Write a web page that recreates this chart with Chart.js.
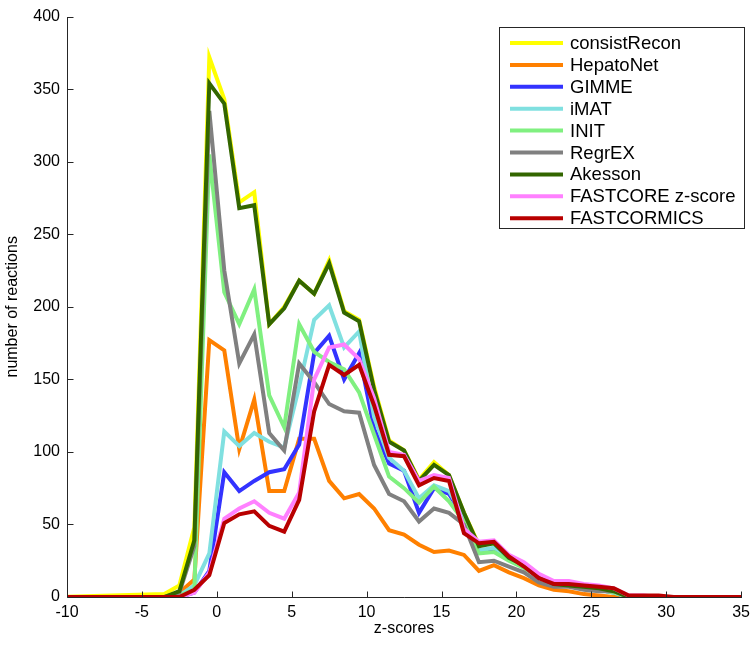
<!DOCTYPE html>
<html>
<head>
<meta charset="utf-8">
<script src="https://cdn.jsdelivr.net/npm/chart.js@4.4.1/dist/chart.umd.min.js"></script>
<style>
  html, body { margin: 0; padding: 0; background: #fff; }
  #wrap { width: 756px; height: 654px; }
</style>
</head>
<body>
<div id="wrap"><canvas id="chart" width="756" height="654"></canvas></div>
<script>
// bin centres (z-score) and number of reactions per method
const zScores = [-10.5, -3.5, -2.5, -1.5, -0.5, 0.5, 1.5, 2.5, 3.5, 4.5, 5.5, 6.5, 7.5, 8.5, 9.5, 10.5, 11.5, 12.5,
  13.5, 14.5, 15.5, 16.5, 17.5, 18.5, 19.5, 20.5, 21.5, 22.5, 23.5, 24.5, 25.5, 26.5, 27.5, 28.5, 29.5, 30.5, 35.5];

const consistRecon = [0, 2, 8, 48, 372, 343, 272, 279, 188, 200, 218, 209, 232, 197, 191, 145, 108, 101,
  81, 93, 84, 58, 36, 37, 27, 22, 14, 9, 8, 7, 6, 4, 0, 0, 0, 0, 0];
const hepatoNet = [0, 0, 3, 12, 177, 170, 102, 136, 73, 73, 109, 109, 80, 68, 71, 61, 46, 43,
  36, 31, 32, 29, 18, 22, 17, 13, 8, 5, 4, 2, 1, 0, 0, 0, 0, 0, 0];
const gimme = [0, 0, 0, 3, 18, 86, 73, 80, 86, 88, 105, 168, 180, 150, 168, 116, 92, 87,
  58, 75, 71, 55, 32, 33, 26, 21, 14, 9, 8, 7, 5, 3, 0, 0, 0, 0, 0];
const imat = [0, 0, 1, 8, 30, 114, 104, 113, 107, 103, 145, 191, 201, 172, 183, 124, 96, 87,
  68, 77, 73, 55, 32, 34, 27, 21, 14, 9, 8, 7, 5, 3, 0, 0, 0, 0, 0];
const init = [0, 0, 1, 5, 305, 210, 188, 212, 139, 117, 188, 169, 162, 157, 141, 112, 83, 75,
  65, 76, 66, 52, 30, 31, 25, 20, 14, 8, 8, 6, 5, 3, 0, 0, 0, 0, 0];
const regrEX = [0, 0, 3, 35, 335, 225, 161, 181, 113, 101, 161, 148, 133, 128, 127, 91, 71, 66,
  52, 61, 58, 50, 24, 25, 21, 17, 10, 7, 7, 5, 4, 4, 0, 0, 0, 0, 0];
const akesson = [0, 0, 4, 39, 354, 340, 268, 270, 188, 199, 218, 209, 230, 196, 190, 143, 107, 101,
  80, 91, 84, 58, 35, 37, 27, 22, 14, 9, 8, 7, 6, 4, 0, 0, 0, 0, 0];
const fastcoreZ = [0, 0, 0, 3, 17, 54, 61, 66, 58, 54, 72, 150, 172, 174, 164, 137, 100, 98,
  80, 84, 82, 47, 38, 39, 29, 24, 16, 11, 11, 9, 8, 6, 1, 1, 0, 0, 0];
const fastcormics = [0, 0, 0, 5, 15, 51, 57, 59, 49, 45, 67, 128, 160, 153, 160, 132, 98, 97,
  77, 82, 80, 44, 37, 38, 28, 21, 13, 9, 9, 8, 7, 6, 1, 1, 1, 0, 0];

const methodNames = ['consistRecon', 'HepatoNet', 'GIMME', 'iMAT', 'INIT', 'RegrEX', 'Akesson', 'FASTCORE z-score', 'FASTCORMICS'];
const methodColors = ['#ffff00', '#ff8000', '#3333ff', '#80e0e0', '#80f080', '#808080', '#336600', '#ff80ff', '#b80000'];
const seriesList = [consistRecon, hepatoNet, gimme, imat, init, regrEX, akesson, fastcoreZ, fastcormics];

const xTicks = [-10, -5, 0, 5, 10, 15, 20, 25, 30, 35];
const yTicks = [0, 50, 100, 150, 200, 250, 300, 350, 400];

const FONT = '"Liberation Sans", Arial, Helvetica, sans-serif';
const AXIS_COLOR = '#262626';

let datasets = seriesList.map(function (vals, i) {
    return {
        label: methodNames[i],
        data: vals.map(function (v, k) { return { x: zScores[k], y: v }; }),
        borderColor: methodColors[i],
        backgroundColor: methodColors[i],
        borderWidth: 4,
        pointRadius: 0,
        tension: 0,
        fill: false,
        order: seriesList.length - i   // later methods drawn on top
    };
});

// left + bottom axis lines with inward ticks (matlab, box off)
let axesPlugin = {
    id: 'axesLines',
    afterDatasetsDraw: function (chart) {
        let ctx = chart.ctx, a = chart.chartArea;
        let xs = chart.scales.x, ys = chart.scales.y;
        let l = Math.round(a.left) + 0.5, b = Math.round(a.bottom) + 0.5;
        ctx.save();
        ctx.strokeStyle = AXIS_COLOR;
        ctx.lineWidth = 1;
        ctx.beginPath();
        ctx.moveTo(l, Math.round(a.top)); ctx.lineTo(l, b); ctx.lineTo(Math.round(a.right) + 1, b);
        xTicks.forEach(function (t) {
            let px = Math.round(xs.getPixelForValue(t)) + 0.5;
            ctx.moveTo(px, b); ctx.lineTo(px, b - 6);
        });
        yTicks.forEach(function (t) {
            let py = Math.round(ys.getPixelForValue(t)) + 0.5;
            ctx.moveTo(l, py); ctx.lineTo(l + 6, py);
        });
        ctx.stroke();
        ctx.restore();
    }
};

let legendPlugin = {
    id: 'boxLegend',
    afterDraw: function (chart) {
        let ctx = chart.ctx;
        let left = 499, top = 27, right = 744, rowH = 21.9, firstY = 43;
        let bottom = 228;
        ctx.save();
        ctx.fillStyle = '#fff';
        ctx.fillRect(left, top, right - left, bottom - top);
        ctx.strokeStyle = AXIS_COLOR;
        ctx.lineWidth = 1;
        ctx.strokeRect(left + 0.5, top + 0.5, right - left, bottom - top);
        ctx.font = '18.5px ' + FONT;
        ctx.textBaseline = 'middle';
        methodNames.forEach(function (name, i) {
            let y = firstY + rowH * i;
            ctx.strokeStyle = methodColors[i];
            ctx.lineWidth = 4;
            ctx.beginPath();
            ctx.moveTo(510, y); ctx.lineTo(563, y);
            ctx.stroke();
            ctx.fillStyle = '#000';
            ctx.fillText(name, 570, y + 1);
        });
        ctx.restore();
    }
};

new Chart(document.getElementById('chart'), {
    type: 'line',
    data: { datasets: datasets },
    options: {
        responsive: false,
        animation: false,
        layout: { padding: { top: 10, right: 14, left: 0, bottom: 0 } },
        plugins: { legend: { display: false }, tooltip: { enabled: false } },
        scales: {
            x: {
                type: 'linear',
                min: -10, max: 35,
                afterBuildTicks: function (s) { s.ticks = xTicks.map(function (v) { return { value: v }; }); },
                afterFit: function (s) { s.height = 57; },
                grid: { display: false, drawTicks: false },
                border: { display: false },
                ticks: { color: '#000', font: { family: FONT, size: 16 }, padding: 6, maxRotation: 0 },
                title: { display: true, text: 'z-scores', color: '#000', font: { family: FONT, size: 16 }, padding: { top: 0, bottom: 16 } }
            },
            y: {
                type: 'linear',
                min: 0, max: 400,
                afterBuildTicks: function (s) { s.ticks = yTicks.map(function (v) { return { value: v }; }); },
                afterFit: function (s) { s.width = 67; },
                grid: { display: false, drawTicks: false },
                border: { display: false },
                ticks: { color: '#000', font: { family: FONT, size: 16 }, padding: 7 },
                title: { display: true, text: 'number of reactions', color: '#000', font: { family: FONT, size: 16 }, padding: { top: 3, bottom: 0 } }
            }
        }
    },
    plugins: [axesPlugin, legendPlugin]
});
</script>
</body>
</html>
